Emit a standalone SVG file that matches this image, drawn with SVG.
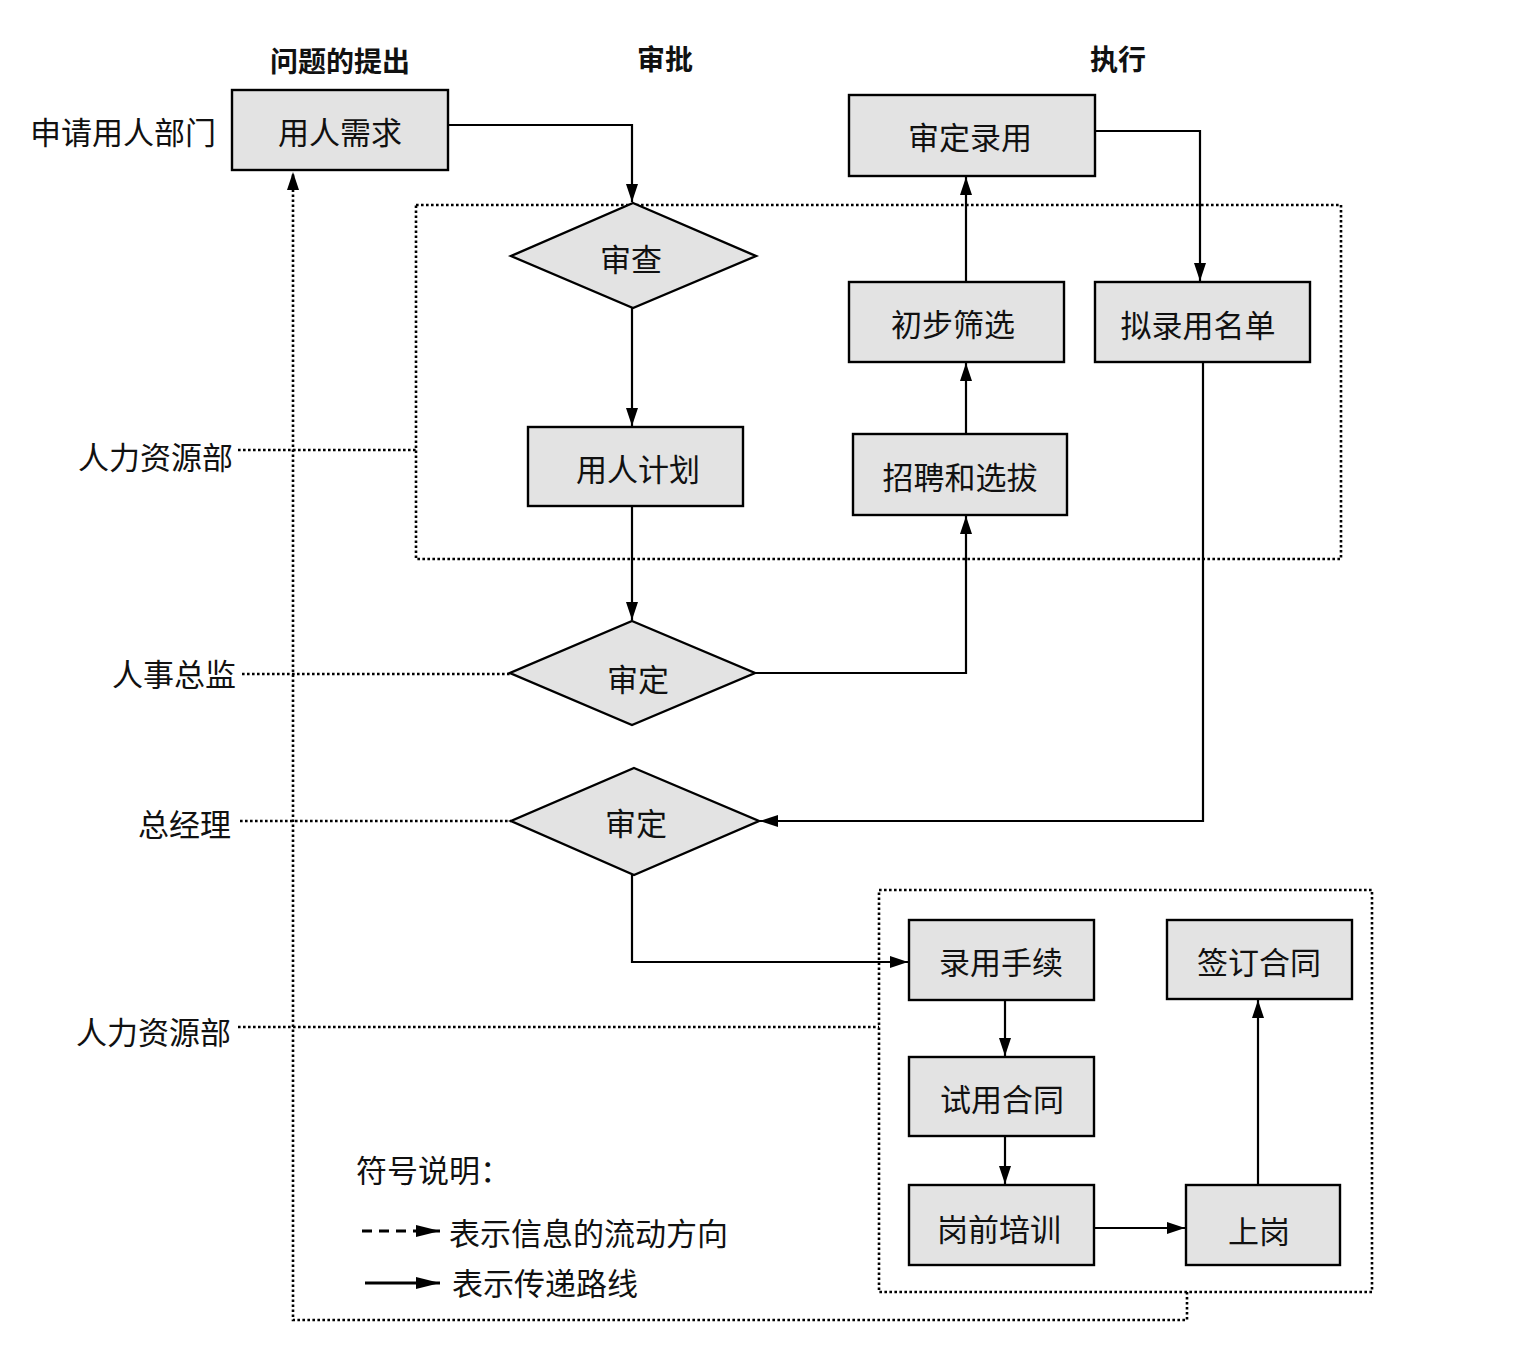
<svg xmlns="http://www.w3.org/2000/svg" width="1527" height="1354" viewBox="0 0 1527 1354">
<defs>
<marker id="ah" viewBox="0 0 18 12" refX="18" refY="6" markerWidth="18" markerHeight="12" markerUnits="userSpaceOnUse" orient="auto">
<path d="M0,0 L18,6 L0,12 Z" fill="#000"/>
</marker>
<marker id="ahl" viewBox="0 0 24 12" refX="24" refY="6" markerWidth="24" markerHeight="12" markerUnits="userSpaceOnUse" orient="auto">
<path d="M0,0 L24,6 L0,12 Z" fill="#000"/>
</marker>
<style>
.box{fill:#e3e3e3;stroke:#000;stroke-width:2.4}
.t{font-family:"Noto Sans CJK SC","Noto Sans",sans-serif;font-size:31px;fill:#111;text-anchor:middle;dominant-baseline:central}
.h{font-family:"Noto Sans CJK SC","Noto Sans",sans-serif;font-size:28px;font-weight:bold;fill:#111;text-anchor:middle;dominant-baseline:central}
.lab{font-family:"Noto Sans CJK SC","Noto Sans",sans-serif;font-size:31px;fill:#111;text-anchor:end;dominant-baseline:central}
.leg{font-family:"Noto Sans CJK SC","Noto Sans",sans-serif;font-size:31px;fill:#111;text-anchor:start;dominant-baseline:central}
.solid{fill:none;stroke:#000;stroke-width:2.2}
.dot{fill:none;stroke:#000;stroke-width:2.6;stroke-dasharray:2.6 2.4}
</style>
</defs>
<rect width="1527" height="1354" fill="#fff"/>

<g id="headers">
<text class="h" x="340" y="60">问题的提出</text>
<text class="h" x="665" y="58">审批</text>
<text class="h" x="1118" y="58">执行</text>
</g>

<g id="lanes">
<text class="lab" x="216" y="130">申请用人部门</text>
<text class="lab" x="233" y="455">人力资源部</text>
<text class="lab" x="236" y="672">人事总监</text>
<text class="lab" x="231" y="822">总经理</text>
<text class="lab" x="231" y="1030">人力资源部</text>
</g>

<g id="groups">
<rect class="dot" x="416" y="205" width="925" height="354"/>
<rect class="dot" x="879" y="890" width="493" height="402"/>
</g>

<g id="connectors">
<line class="dot" x1="238" y1="450" x2="416" y2="450"/>
<line class="dot" x1="242" y1="674" x2="510" y2="674"/>
<line class="dot" x1="240" y1="821" x2="511" y2="821"/>
<line class="dot" x1="238" y1="1027" x2="879" y2="1027"/>
<path class="dot" d="M1187,1292 V1320 H293 V172" marker-end="url(#ah)"/>
<path class="solid" d="M448,125 H632 V202" marker-end="url(#ah)"/>
<path class="solid" d="M632,308 V426" marker-end="url(#ah)"/>
<path class="solid" d="M632,506 V620" marker-end="url(#ah)"/>
<path class="solid" d="M755,673 H966 V516" marker-end="url(#ah)"/>
<path class="solid" d="M966,434 V363" marker-end="url(#ah)"/>
<path class="solid" d="M966,282 V177" marker-end="url(#ah)"/>
<path class="solid" d="M1095,131 H1200 V281" marker-end="url(#ah)"/>
<path class="solid" d="M1203,362 V821 H760" marker-end="url(#ah)"/>
<path class="solid" d="M632,875 V962 H908" marker-end="url(#ah)"/>
<path class="solid" d="M1005,1000 V1056" marker-end="url(#ah)"/>
<path class="solid" d="M1005,1136 V1184" marker-end="url(#ah)"/>
<path class="solid" d="M1094,1228 H1185" marker-end="url(#ah)"/>
<path class="solid" d="M1258,1185 V1000" marker-end="url(#ah)"/>
</g>

<g id="n-yongrenxuqiu"><rect class="box" x="232" y="90" width="216" height="80"/><text class="t" x="340" y="130">用人需求</text></g>
<g id="n-shencha"><polygon class="box" points="633,203 756,256 633,308 511,256"/><text class="t" x="631" y="257">审查</text></g>
<g id="n-yongrenjihua"><rect class="box" x="528" y="427" width="215" height="79"/><text class="t" x="638" y="467">用人计划</text></g>
<g id="n-shending1"><polygon class="box" points="632,621 755,673 632,725 510,673"/><text class="t" x="638" y="677">审定</text></g>
<g id="n-zhaopin"><rect class="box" x="853" y="434" width="214" height="81"/><text class="t" x="960" y="475">招聘和选拔</text></g>
<g id="n-chubushaixuan"><rect class="box" x="849" y="282" width="215" height="80"/><text class="t" x="953" y="322">初步筛选</text></g>
<g id="n-shendingluyong"><rect class="box" x="849" y="95" width="246" height="81"/><text class="t" x="970" y="135">审定录用</text></g>
<g id="n-niluyong"><rect class="box" x="1095" y="282" width="215" height="80"/><text class="t" x="1198" y="323">拟录用名单</text></g>
<g id="n-shending2"><polygon class="box" points="634,768 759,821 634,875 511,821"/><text class="t" x="636" y="821">审定</text></g>
<g id="n-luyongshouxu"><rect class="box" x="909" y="920" width="185" height="80"/><text class="t" x="1001" y="960">录用手续</text></g>
<g id="n-shiyonghetong"><rect class="box" x="909" y="1057" width="185" height="79"/><text class="t" x="1002" y="1097">试用合同</text></g>
<g id="n-gangqianpeixun"><rect class="box" x="909" y="1185" width="185" height="80"/><text class="t" x="999" y="1227">岗前培训</text></g>
<g id="n-shanggang"><rect class="box" x="1186" y="1185" width="154" height="80"/><text class="t" x="1259" y="1229">上岗</text></g>
<g id="n-qianding"><rect class="box" x="1167" y="920" width="185" height="79"/><text class="t" x="1259" y="960">签订合同</text></g>

<g id="legend">
<text class="leg" x="356" y="1168">符号说明：</text>
<line x1="362" y1="1231" x2="440" y2="1231" stroke="#000" stroke-width="3" stroke-dasharray="10 7" marker-end="url(#ahl)"/>
<text class="leg" x="449" y="1231">表示信息的流动方向</text>
<line x1="365" y1="1283" x2="440" y2="1283" stroke="#000" stroke-width="3" marker-end="url(#ahl)"/>
<text class="leg" x="452" y="1281">表示传递路线</text>
</g>
</svg>
